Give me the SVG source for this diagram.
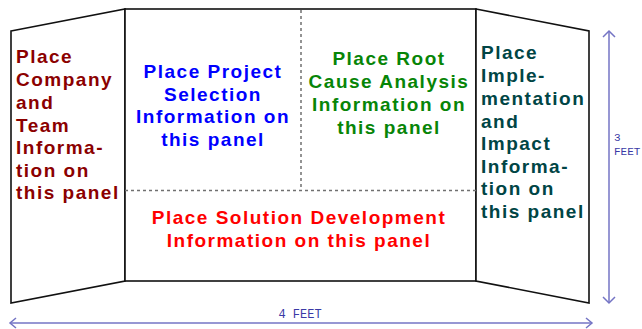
<svg xmlns="http://www.w3.org/2000/svg" width="642" height="329" viewBox="0 0 642 329">
<style>
.panel{fill:#fff;stroke:#111;stroke-width:1.6;stroke-linejoin:miter}
.dash{stroke:#707070;stroke-width:1.5;stroke-dasharray:3 3;fill:none}
.t{font-family:"Liberation Sans",Arial,sans-serif;font-weight:bold;font-size:19px;letter-spacing:1.5px}
.dim{stroke:#7474c4;stroke-width:1.5;fill:none}
.dimt{font-family:"Liberation Mono","DejaVu Sans Mono",monospace;font-size:12px;fill:#3a3aa6}
.dimv{font-family:"Liberation Mono","DejaVu Sans Mono",monospace;font-size:11px;fill:#3a3aa6}
</style>
<rect width="642" height="329" fill="#fff"/>
<g id="left-panel">
<polygon class="panel" points="11,31 125,9 125,281 11,303"/>
<text class="t" fill="#8b0000">
<tspan x="16" y="63">Place</tspan><tspan x="16" y="86">Company</tspan><tspan x="16" y="109">and</tspan><tspan x="16" y="132">Team</tspan><tspan x="16" y="154">Informa-</tspan><tspan x="16" y="177">tion on</tspan><tspan x="16" y="199">this panel</tspan>
</text>
</g>
<g id="center-panel">
<rect class="panel" x="125" y="9" width="351" height="272"/>
</g>
<g id="right-panel">
<polygon class="panel" points="476,9 589,31 589,303 476,281"/>
<text class="t" fill="#004545">
<tspan x="481" y="59">Place</tspan><tspan x="481" y="82">Imple-</tspan><tspan x="481" y="105">mentation</tspan><tspan x="481" y="128">and</tspan><tspan x="481" y="150">Impact</tspan><tspan x="481" y="173">Informa-</tspan><tspan x="481" y="195">tion on</tspan><tspan x="481" y="218">this panel</tspan>
</text>
</g>
<g id="connectors">
<line class="dash" x1="125" y1="190.5" x2="476" y2="190.5"/>
<line class="dash" x1="301" y1="10" x2="301" y2="190"/>
<line class="dim" x1="10" y1="323" x2="592" y2="323"/>
<polyline class="dim" points="16,318 10,323 16,328"/>
<polyline class="dim" points="586,318 592,323 586,328"/>
<line class="dim" x1="609" y1="31" x2="609" y2="303"/>
<polyline class="dim" points="603,37 609,31 615,37"/>
<polyline class="dim" points="603,297 609,303 615,297"/>
</g>
<g id="project-selection">
<text class="t" fill="#0000ff" text-anchor="middle">
<tspan x="213" y="78">Place Project</tspan><tspan x="213" y="101">Selection</tspan><tspan x="213" y="123">Information on</tspan><tspan x="213" y="146">this panel</tspan>
</text>
</g>
<g id="root-cause">
<text class="t" fill="#078507" text-anchor="middle">
<tspan x="389" y="65">Place Root</tspan><tspan x="389" y="88">Cause Analysis</tspan><tspan x="389" y="111">Information on</tspan><tspan x="389" y="134">this panel</tspan>
</text>
</g>
<g id="solution-development">
<text class="t" fill="#ff0000" text-anchor="middle">
<tspan x="299" y="224">Place Solution Development</tspan><tspan x="299" y="247">Information on this panel</tspan>
</text>
</g>
<g id="dimensions">
<text class="dimt" x="300" y="318" text-anchor="middle">4 FEET</text>
<text class="dimv" x="614" y="141">3</text>
<text class="dimv" x="614" y="155">FEET</text>
</g>
</svg>
